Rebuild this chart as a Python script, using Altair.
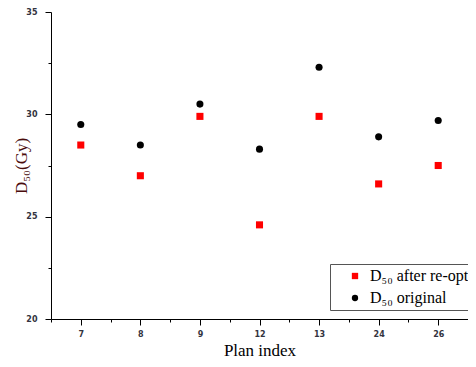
import altair as alt
import pandas as pd

plan_labels = ["7", "8", "9", "12", "13", "24", "26"]
after_reopt = [28.5, 27.0, 29.9, 24.6, 29.9, 26.6, 27.5]
original = [29.5, 28.5, 30.5, 28.3, 32.3, 28.9, 29.7]
series_names = ["D\u2085\u2080 after re-opt", "D\u2085\u2080 original"]

rows = []
for i, lab in enumerate(plan_labels):
    rows.append({"idx": i + 1, "plan": lab, "series": series_names[0], "value": after_reopt[i]})
    rows.append({"idx": i + 1, "plan": lab, "series": series_names[1], "value": original[i]})
df = pd.DataFrame(rows)

label_expr = "[" + ",".join("'%s'" % l for l in plan_labels) + "][datum.value - 1]"

axis_common = dict(
    domainColor="#000000", tickColor="#000000", labelColor="#333340",
    labelFont="DejaVu Sans", labelFontWeight="bold", labelFontSize=8,
    grid=False,
)

xscale = alt.Scale(domain=[0.5, 7.5], nice=False, zero=False)
yscale = alt.Scale(domain=[20, 35], nice=False, zero=False)

main = alt.Chart(df).mark_point(filled=True, opacity=1, size=50).encode(
    x=alt.X("idx:Q", scale=xscale,
            axis=alt.Axis(orient="bottom", values=[1, 2, 3, 4, 5, 6, 7], labelExpr=label_expr,
                          tickSize=6, labelPadding=5, title="Plan index",
                          titleFont="Liberation Serif", titleFontSize=17,
                          titleFontWeight="normal", titleColor="#000000",
                          titleY=36, titleBaseline="alphabetic", **axis_common)),
    y=alt.Y("value:Q", scale=yscale,
            axis=alt.Axis(orient="left", values=[20, 25, 30, 35], tickSize=6, labelPadding=8,
                          title="D\u2085\u2080(Gy)", titleFont="Liberation Serif",
                          titleFontSize=17, titleFontWeight="normal",
                          titleColor="#4a0c0c", titleX=-21, titleBaseline="bottom",
                          **axis_common)),
    color=alt.Color("series:N",
                    scale=alt.Scale(domain=series_names, range=["#ff0000", "#000000"]),
                    legend=alt.Legend(title=None, orient="none", legendX=279, legendY=252,
                                      strokeColor="#555555", fillColor="#ffffff",
                                      padding=4, symbolOffset=13, rowPadding=6,
                                      labelFont="Liberation Serif", labelFontSize=16,
                                      labelColor="#000000", labelOffset=7,
                                      symbolSize=40)),
    shape=alt.Shape("series:N",
                    scale=alt.Scale(domain=series_names, range=["square", "circle"]),
                    legend=alt.Legend(title=None, orient="none", legendX=279, legendY=252)),
)

minor = alt.Chart(df).mark_point(opacity=0).encode(
    x=alt.X("idx:Q", scale=xscale,
            axis=alt.Axis(orient="bottom", values=[0.5, 1.5, 2.5, 3.5, 4.5, 5.5, 6.5, 7.5],
                          labels=False, tickSize=3, title=None, domain=False, grid=False,
                          tickColor="#000000")),
    y=alt.Y("value:Q", scale=yscale,
            axis=alt.Axis(orient="left", values=[22.5, 27.5, 32.5], labels=False, tickSize=3,
                          title=None, domain=False, grid=False, tickColor="#000000")),
)

chart = alt.layer(main, minor).resolve_axis(x="independent", y="independent").properties(
    width=417, height=307,
    autosize=alt.AutoSizeParams(type="none"),
    padding={"left": 43, "top": 4, "right": 0, "bottom": 40},
    background="#ffffff",
).configure_view(strokeWidth=0)

chart.save("out.html", embed_options={"renderer": "svg", "actions": False})
